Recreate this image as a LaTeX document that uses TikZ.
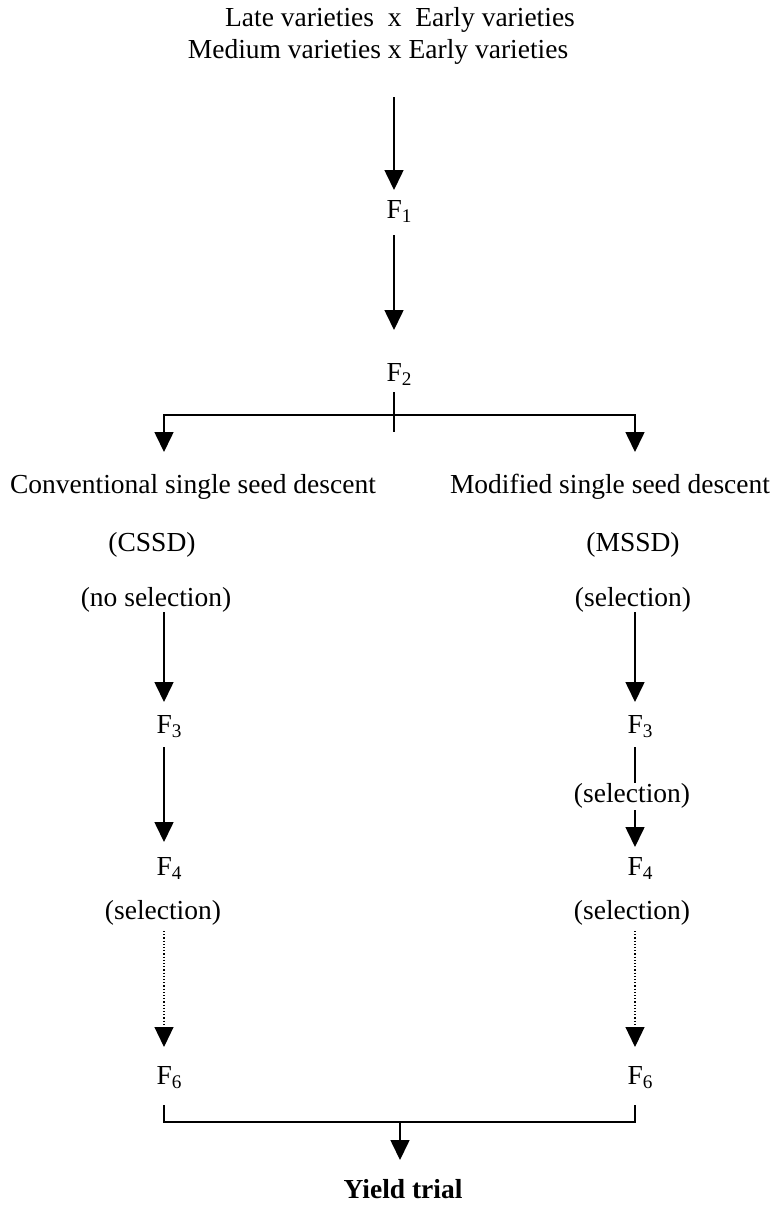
\documentclass[tikz,border=0pt]{standalone}
\usepackage{fontspec}
\setmainfont{Liberation Serif}
\usetikzlibrary{arrows.meta}
\tikzset{>={Triangle[length=10pt, width=9.5pt]}}
\tikzstyle{txt} = [font=\fontsize{13.75pt}{16pt}\selectfont, anchor=base, inner sep=0pt, outer sep=0pt, text height=9.5pt, text depth=3pt]
\tikzstyle{gen} = [txt, anchor=base west, xshift=-3.75pt]
\tikzstyle{wire} = [line width=0.8pt]
\tikzstyle{path} = [wire, ->]
\tikzstyle{dots} = [path, line width=0.6pt, densely dotted]

\begin{document}
\begin{tikzpicture}[x=0.5pt, y=-0.5pt]
    \useasboundingbox (0,0) rectangle (781,1215);

    % Columns.
    \coordinate (colL) at (164,0);
    \coordinate (colM) at (394,0);
    \coordinate (colR) at (635,0);
    \coordinate (split) at (394,415);
    \coordinate (tick) at (394,432);
    \coordinate (merge) at (400,1122);

    % Crosses.
    \node (cross1) [txt] at (400,26) {Late varieties\ \ x\ \ Early varieties};
    \node (cross2) [txt] at (378,58) {Medium varieties x Early varieties};
    \node (f1) [gen] at (394,218) {F\textsubscript{1}};
    \node (f2) [gen] at (394,381) {F\textsubscript{2}};

    % Conventional.
    \node (conv) [txt] at (193,493) {Conventional single seed descent};
    \node (cssd) [txt] at (152,551) {(CSSD)};
    \node (selectl) [txt] at (156,606) {(no selection)};
    \node (f3l) [gen] at (164,733) {F\textsubscript{3}};
    \node (f4l) [gen] at (164,875) {F\textsubscript{4}};
    \node (sel4l) [txt] at (163,919) {(selection)};
    \node (f6l) [gen] at (164,1084) {F\textsubscript{6}};

    % Modified.
    \node (mod) [txt] at (610,493) {Modified single seed descent};
    \node (mssd) [txt] at (633,551) {(MSSD)};
    \node (selectr) [txt] at (633,606) {(selection)};
    \node (f3r) [gen] at (635,733) {F\textsubscript{3}};
    \node (sel3r) [txt] at (632,802) {(selection)};
    \node (f4r) [gen] at (635,875) {F\textsubscript{4}};
    \node (sel4r) [txt] at (632,919) {(selection)};
    \node (f6r) [gen] at (635,1084) {F\textsubscript{6}};

    \node (yield) [txt, font=\fontsize{13.75pt}{16pt}\selectfont\bfseries] at (403,1198) {Yield trial};

    % Arrows.
    \draw [path, shorten <=16.5pt, shorten >=4.5pt] (colM |- cross2.south) -- (colM |- f1.north);
    \draw [path, shorten <=5.5pt, shorten >=16pt] (colM |- f1.south) -- (colM |- f2.north);
    \draw [wire, shorten <=2.5pt] (colM |- f2.south) -- (tick);
    \draw [wire, <->, shorten <=11pt, shorten >=11pt]
        (colL |- conv.north) -- (colL |- split) -- (colR |- split) -- (colR |- mod.north);

    \foreach \s/\col in {l/colL, r/colR} {
        \draw [path, shorten >=6pt] (\col |- select\s.south) -- (\col |- f3\s.north);
        \draw [dots, shorten <=3pt, shorten >=9pt] (\col |- sel4\s.south) -- (\col |- f6\s.north);
    }

    \draw [path, shorten <=4pt, shorten >=7pt] (colL |- f3l.south) -- (colL |- f4l.north);
    \draw [wire, shorten <=4pt] (colR |- f3r.south) -- (colR |- sel3r.north);
    \draw [path, shorten <=1pt, shorten >=4.5pt] (colR |- sel3r.south) -- (colR |- f4r.north);

    \draw [wire, shorten <=7.5pt, shorten >=7.5pt]
        (colL |- f6l.south) -- (colL |- merge) -- (colR |- merge) -- (colR |- f6r.south);
    \draw [path, shorten >=9.5pt] (merge) -- (merge |- yield.north);
\end{tikzpicture}
\end{document}
